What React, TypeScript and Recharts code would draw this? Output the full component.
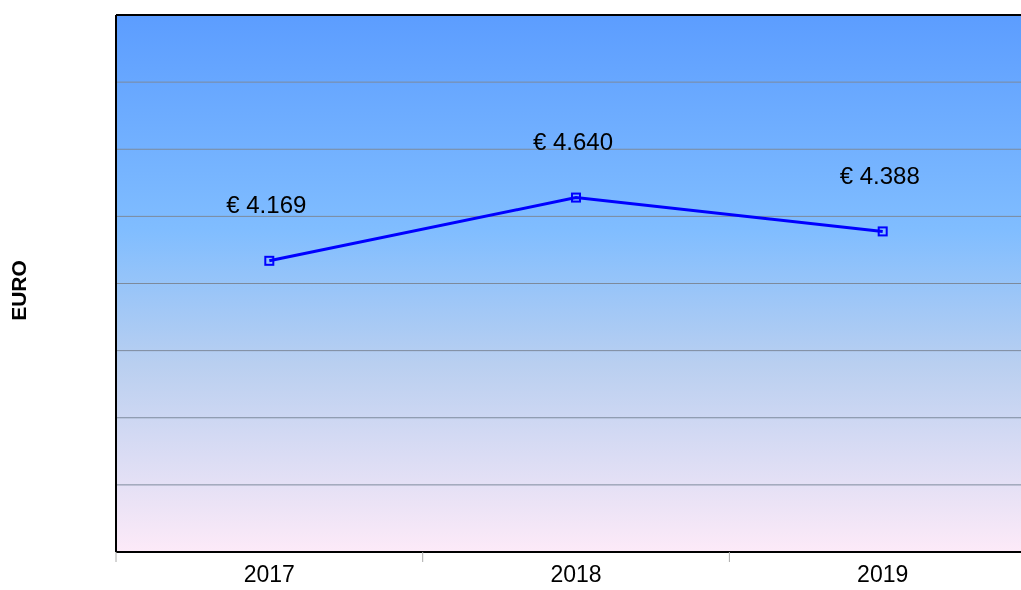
import React from "react";
import {
  LineChart,
  Line,
  XAxis,
  YAxis,
  CartesianGrid,
  ReferenceLine,
  LabelList,
} from "recharts";

const years = ["2017", "2018", "2019"];
const euroValues = [4169, 4640, 4388];
const yTicks = [2000, 2500, 3000, 3500, 4000, 4500, 5000, 5500, 6000];

const chartData = years.map((year, i) => ({ year, value: euroValues[i] }));

const HALF_BAND = 153.3;
const FONT = "'Liberation Sans', Arial, sans-serif";

// "€ 4.169" style with dot as thousands separator
const formatEuro = (v: number) => {
  const s = Math.round(v).toString();
  const withDots = s.replace(/\B(?=(\d{3})+(?!\d))/g, ".");
  return `€ ${withDots}`;
};

const YearTick = (props: any) => {
  const { x, y, payload } = props;
  return (
    <g>
      <line x1={x - HALF_BAND} y1={y - 8} x2={x - HALF_BAND} y2={y + 2} stroke="#aaaaaa" strokeWidth={1} />
      <text x={x} y={y + 22} textAnchor="middle" fontSize={23} fontFamily={FONT} fill="#000">
        {payload.value}
      </text>
    </g>
  );
};

const SquareDot = (props: any) => {
  const { cx, cy, index } = props;
  if (cx == null || cy == null) return null;
  return (
    <rect
      key={`dot-${index}`}
      x={cx - 4}
      y={cy - 4}
      width={8}
      height={8}
      fill="none"
      stroke="#0000ff"
      strokeWidth={2}
    />
  );
};

const ValueLabel = (props: any) => {
  const { x, y, value } = props;
  return (
    <text
      x={x - 3}
      y={y - 56}
      textAnchor="middle"
      dominantBaseline="central"
      fontSize={24}
      fontFamily={FONT}
      fill="#000"
    >
      {formatEuro(value)}
    </text>
  );
};

export default function App() {
  return (
    <div style={{ position: "fixed", top: 8, left: 8, width: 1013, height: 582, overflow: "hidden" }}>
      <LineChart
        width={1040}
        height={582}
        data={chartData}
        margin={{ top: 7, right: 12, bottom: 0, left: 0 }}
      >
        <defs>
          <linearGradient id="plotBg" x1="0" y1="0" x2="0" y2="1">
            <stop offset="0%" stopColor="#5c9dff" />
            <stop offset="40%" stopColor="#80bdff" />
            <stop offset="65%" stopColor="#b9cff0" />
            <stop offset="100%" stopColor="#fdeaf8" />
          </linearGradient>
        </defs>
        <CartesianGrid
          vertical={false}
          horizontal={false}
          fill="url(#plotBg)"
          fillOpacity={1}
        />
        {yTicks.slice(1, -1).map((t) => (
          <ReferenceLine key={t} y={t} stroke="#7d8a9c" strokeWidth={1} />
        ))}
        <XAxis
          dataKey="year"
          padding={{ left: HALF_BAND, right: HALF_BAND }}
          axisLine={{ stroke: "#000", strokeWidth: 2 }}
          tickLine={false}
          tick={<YearTick />}
          height={38}
          interval={0}
        />
        <YAxis
          width={108}
          domain={[2000, 6000]}
          ticks={yTicks}
          tick={false}
          tickLine={false}
          axisLine={{ stroke: "#000", strokeWidth: 2 }}
          label={{
            value: "EURO",
            angle: -90,
            position: "insideLeft",
            dx: 6,
            dy: 7,
            style: { fontSize: 21, fontWeight: "bold", fontFamily: FONT, fill: "#000", textAnchor: "middle" },
          }}
        />
        <ReferenceLine y={6000} stroke="#000" strokeWidth={2} />
        <Line
          type="linear"
          dataKey="value"
          stroke="#0000ff"
          strokeWidth={3}
          dot={<SquareDot />}
          activeDot={false}
          isAnimationActive={false}
        >
          <LabelList dataKey="value" content={<ValueLabel />} />
        </Line>
      </LineChart>
    </div>
  );
}
